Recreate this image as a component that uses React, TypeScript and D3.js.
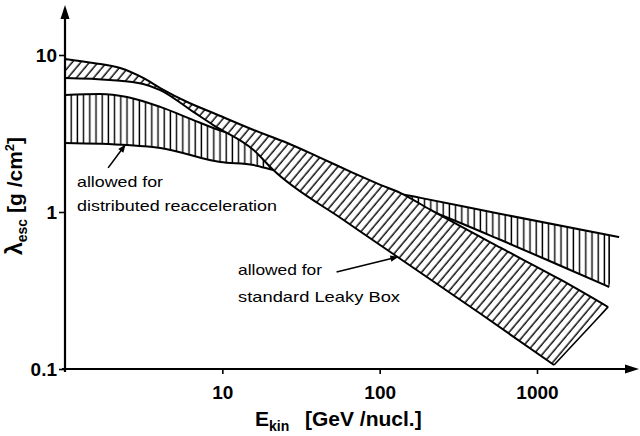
import React, { useEffect, useRef } from 'react';
import * as d3 from 'd3';

// E_kin in GeV/nucl., lambda_esc in g/cm^2

// standard Leaky Box (diagonal hatch)
const lbUpperE = [1.0, 1.51, 2.24, 3.14, 4.03, 5.98, 8.76, 15.8, 25.9, 42.1, 68.3, 101, 136, 211, 590, 1422, 2833];
const lbUpperL = [9.43, 8.89, 8.26, 7.14, 6.16, 5.02, 4.27, 3.33, 2.75, 2.21, 1.77, 1.49, 1.32, 1.03, 0.59, 0.369, 0.248];
const lbLowerE = [1.0, 1.93, 3.14, 4.03, 6.54, 8.76, 15.8, 21.1, 59.0, 130, 440, 1283];
const lbLowerL = [7.14, 6.93, 6.54, 5.98, 4.34, 3.58, 2.48, 1.85, 0.889, 0.517, 0.224, 0.106];

// distributed reacceleration (vertical hatch)
const drUpperE = [1.0, 1.67, 2.48, 4.03, 6.54, 8.76, 11.2, 21.1, 42.1, 94.3, 182, 590, 3327];
const drUpperL = [5.56, 5.65, 5.4, 4.67, 3.85, 3.43, 3.14, 2.48, 1.85, 1.4, 1.23, 0.971, 0.693];
const drLowerE = [1.0, 2.48, 4.03, 9.71, 15.8, 21.1, 42.1, 94.3, 211, 590, 1422, 2875];
const drLowerL = [2.75, 2.67, 2.56, 2.08, 1.99, 1.85, 1.6, 1.36, 1.015, 0.663, 0.453, 0.333];

const xTicks = [10, 100, 1000];
const xTickLabels = ['10', '100', '1000'];
const yTicks = [0.1, 1, 10];
const yTickLabels = ['0.1', '1', '10'];

// arrows from the labels to the bands: [E0, L0, E1, L1]
const arrows = [
  [1.88, 1.91, 2.41, 2.67],
  [53.2, 0.415, 130, 0.517],
];

const W = 640;
const H = 436;
const tickFont = '"Liberation Sans", Arial, sans-serif';

export default function App() {
  const ref = useRef<SVGSVGElement>(null);

  useEffect(() => {
    const svg = d3.select(ref.current);
    svg.selectAll('*').remove();

    const x = d3.scaleLog().domain([1, 1000]).range([65, 537]);
    const y = d3.scaleLog().domain([0.1, 10]).range([369, 55]);

    const defs = svg.append('defs');
    const vh = defs.append('pattern').attr('id', 'vhatch')
      .attr('patternUnits', 'userSpaceOnUse').attr('width', 6.2).attr('height', 10);
    vh.append('rect').attr('width', 6.2).attr('height', 10).attr('fill', '#fff');
    vh.append('line').attr('x1', 3).attr('x2', 3).attr('y1', 0).attr('y2', 10)
      .attr('stroke', '#000').attr('stroke-width', 1.4);

    const dh = defs.append('pattern').attr('id', 'dhatch')
      .attr('patternUnits', 'userSpaceOnUse').attr('width', 6.6).attr('height', 10)
      .attr('patternTransform', 'rotate(40)');
    dh.append('rect').attr('width', 6.6).attr('height', 10).attr('fill', '#fff');
    dh.append('line').attr('x1', 3).attr('x2', 3).attr('y1', 0).attr('y2', 10)
      .attr('stroke', '#000').attr('stroke-width', 1.4);

    defs.append('marker').attr('id', 'arrow')
      .attr('viewBox', '0 0 10 10').attr('refX', 9).attr('refY', 5)
      .attr('markerWidth', 9).attr('markerHeight', 8).attr('markerUnits', 'userSpaceOnUse')
      .attr('orient', 'auto')
      .append('path').attr('d', 'M0,1L10,5L0,9Z').attr('fill', '#000');

    const pts = (E: number[], L: number[]) => E.map((e, i) => [x(e), y(L[i])] as [number, number]);
    const line = d3.line().curve(d3.curveMonotoneX);
    const band = (up: [number, number][], lo: [number, number][]) =>
      line(up) + 'L' + (line(lo.slice().reverse()) as string).slice(1) + 'Z';

    const drUp = pts(drUpperE, drUpperL);
    const drLo = pts(drLowerE, drLowerL);
    const lbUp = pts(lbUpperE, lbUpperL);
    const lbLo = pts(lbLowerE, lbLowerL);
    const drEndX = x(drLowerE[drLowerE.length - 1]);

    defs.append('clipPath').attr('id', 'drEnd')
      .append('rect').attr('x', 0).attr('y', 0).attr('width', drEndX).attr('height', H);
    defs.append('clipPath').attr('id', 'drShape')
      .append('path').attr('d', band(drUp, drLo));

    // reacceleration band
    svg.append('g').attr('clip-path', 'url(#drEnd)')
      .append('path').attr('d', band(drUp, drLo)).attr('fill', 'url(#vhatch)');
    svg.append('line').attr('clip-path', 'url(#drShape)')
      .attr('x1', drEndX).attr('x2', drEndX).attr('y1', 0).attr('y2', H)
      .attr('stroke', '#000').attr('stroke-width', 1.6);
    [drUp, drLo].forEach(p => svg.append('path').attr('d', line(p))
      .attr('fill', 'none').attr('stroke', '#000').attr('stroke-width', 2));

    // leaky box band on top
    svg.append('path').attr('d', band(lbUp, lbLo)).attr('fill', 'url(#dhatch)');
    [lbUp, lbLo].forEach(p => svg.append('path').attr('d', line(p))
      .attr('fill', 'none').attr('stroke', '#000').attr('stroke-width', 2));
    const a = lbUp[lbUp.length - 1];
    const b = lbLo[lbLo.length - 1];
    svg.append('line').attr('x1', a[0]).attr('y1', a[1]).attr('x2', b[0]).attr('y2', b[1])
      .attr('stroke', '#000').attr('stroke-width', 1.6);

    // axes
    const x0 = x(1);
    const y0 = y(0.1);
    svg.append('line').attr('x1', x0).attr('x2', x0).attr('y1', y0 + 3).attr('y2', 16)
      .attr('stroke', '#000').attr('stroke-width', 2.2);
    svg.append('path').attr('d', `M${x0},5L${x0 - 4.5},19L${x0 + 4.5},19Z`).attr('fill', '#000');
    svg.append('line').attr('x1', x0 - 3).attr('x2', 626).attr('y1', y0).attr('y2', y0)
      .attr('stroke', '#000').attr('stroke-width', 2.2);
    svg.append('path').attr('d', `M639,${y0}L625,${y0 - 4.5}L625,${y0 + 4.5}Z`).attr('fill', '#000');

    const yAxis = d3.axisLeft(y).tickValues(yTicks).tickSize(6).tickPadding(2)
      .tickFormat((d, i) => yTickLabels[i]);
    const gy = svg.append('g').attr('transform', `translate(${x0},0)`).call(yAxis);
    const xAxis = d3.axisBottom(x).tickValues(xTicks).tickSize(5).tickPadding(12)
      .tickFormat((d, i) => xTickLabels[i]);
    const gx = svg.append('g').attr('transform', `translate(0,${y0})`).call(xAxis);
    [gx, gy].forEach(g => {
      g.select('.domain').remove();
      g.attr('font-family', tickFont).attr('font-size', 19).attr('font-weight', 'bold');
      g.selectAll('line').attr('stroke-width', 1.6);
    });

    // axis titles
    const xt = svg.append('text').attr('x', 255).attr('y', 426)
      .attr('font-family', tickFont).attr('font-size', 21).attr('font-weight', 'bold');
    xt.append('tspan').text('E');
    xt.append('tspan').attr('font-size', 14).attr('dy', 5).text('kin');
    xt.append('tspan').attr('x', 305).attr('dy', -5).text('[GeV /nucl.]');

    const yt = svg.append('text').attr('transform', 'translate(22,255) rotate(-90)')
      .attr('font-family', tickFont).attr('font-size', 21).attr('font-weight', 'bold');
    yt.append('tspan').attr('font-size', 23).text('λ');
    yt.append('tspan').attr('font-size', 14).attr('dy', 5).text('esc');
    yt.append('tspan').attr('dy', -5).text(' [g /cm');
    yt.append('tspan').attr('font-size', 13).attr('dy', -8).text('2');
    yt.append('tspan').attr('dy', 8).text(']');

    // annotations
    const notes: [string, number, number, number][] = [
      ['allowed for', 77, 187, 86],
      ['distributed reacceleration', 77, 211, 200],
      ['allowed for', 238, 275, 84],
      ['standard Leaky Box', 238, 302, 162],
    ];
    notes.forEach(([t, nx, ny, len]) => svg.append('text').attr('x', nx).attr('y', ny)
      .attr('font-family', tickFont).attr('font-size', 14.5)
      .attr('textLength', len).attr('lengthAdjust', 'spacingAndGlyphs').text(t));

    arrows.forEach(([e0, l0, e1, l1]) => svg.append('line')
      .attr('x1', x(e0)).attr('y1', y(l0)).attr('x2', x(e1)).attr('y2', y(l1))
      .attr('stroke', '#000').attr('stroke-width', 1.6).attr('marker-end', 'url(#arrow)'));
  }, []);

  return (
    <svg ref={ref} width={W} height={H}
      style={{ position: 'absolute', left: 0, top: 0, background: '#fff', display: 'block' }} />
  );
}
